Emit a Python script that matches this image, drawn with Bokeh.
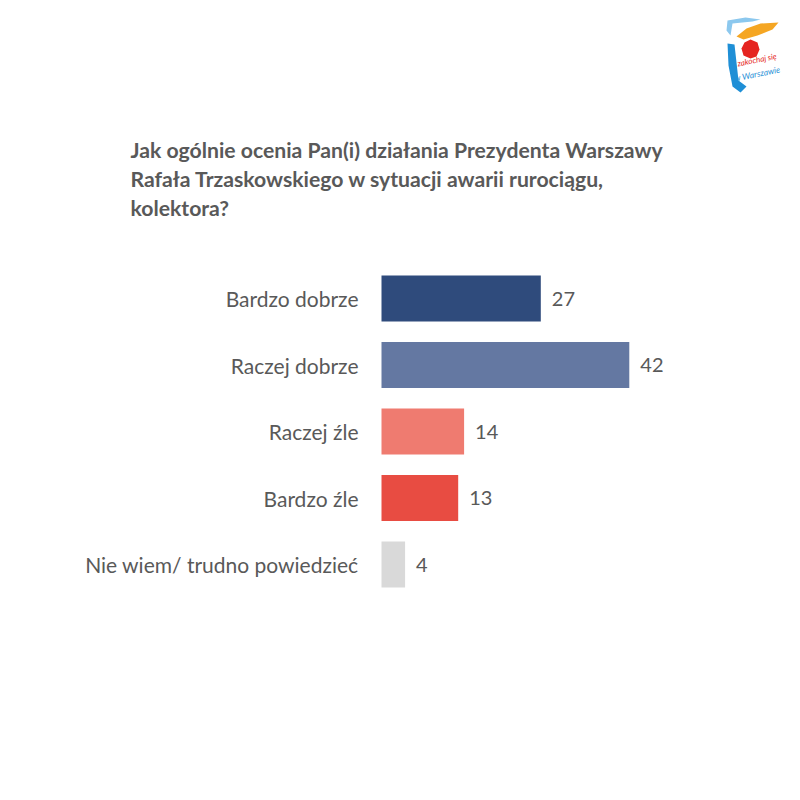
from bokeh.plotting import figure
from bokeh.models import ColumnDataSource, Range1d, Label, PolyAnnotation
from bokeh.core.properties import value
from bokeh.embed import file_html
from bokeh.resources import INLINE

categories = ["Bardzo dobrze", "Raczej dobrze", "Raczej źle", "Bardzo źle", "Nie wiem/ trudno powiedzieć"]
values = [27, 42, 14, 13, 4]
colors = ["#2f4b7c", "#6478a2", "#ef7b70", "#e84c42", "#d9d9d9"]
title_lines = [
    "Jak ogólnie ocenia Pan(i) działania Prezydenta Warszawy",
    "Rafała Trzaskowskiego w sytuacji awarii rurociągu,",
    "kolektora?",
]

TEXT = "#595959"
FONT = "Lato"

W, H = 784, 784
# layout: value 0 at x=381 px, 5.9 px per unit; row pitch 66.5 px, first row centre at 298 px
PX_PER_UNIT = 5.9
X0 = 381
ROW = 66.5
Y0 = 298

pos = list(range(len(categories)))
src = ColumnDataSource(dict(pos=pos, cat=categories, val=values, col=colors,
                            lab=[str(v) for v in values]))

p = figure(width=W, height=H, output_backend="svg", toolbar_location=None,
           x_axis_location=None, y_axis_location=None,
           x_range=Range1d(-X0 / PX_PER_UNIT, (W - X0) / PX_PER_UNIT),
           y_range=Range1d((H - Y0) / ROW, -Y0 / ROW),
           min_border=0)
p.outline_line_color = None
p.grid.visible = False
p.background_fill_color = "white"
p.border_fill_color = "white"

p.hbar(y="pos", right="val", left=0, height=0.69, color="col", line_color=None, source=src)
p.text(x="val", y="pos", text="lab", source=src, x_offset=11,
       text_baseline="middle", text_align="left",
       text_font=value(FONT), text_font_size="20px", text_color=TEXT)
p.text(x=0, y="pos", text="cat", source=src, x_offset=-23,
       text_baseline="middle", text_align="right",
       text_font=value(FONT), text_font_size="21px", text_color=TEXT)

def sx(px):
    return px

def sy(py):
    return H - py

baselines = [149, 178, 207]
for line, b in zip(title_lines, baselines):
    p.add_layout(Label(x=sx(130), y=sy(b), x_units="screen", y_units="screen",
                       text=line, text_font=FONT, text_font_size="21.2px",
                       text_font_style="bold", text_color=TEXT,
                       text_baseline="alphabetic"))

# logo (decoration)
orange = [(736, 36), (746, 28), (760, 23), (778, 22), (772, 29), (757, 35), (743, 39)]
red = [(750, 39), (757, 42), (759, 49), (756, 56), (750, 58), (743, 55), (741, 48), (744, 42)]
blue = [(727, 43), (734, 44), (736, 62), (738, 80), (746, 86), (740, 92), (732, 86), (728, 65)]
face = [(727, 20), (745, 17), (760, 19), (752, 21), (732, 23), (730, 35), (726, 30)]
for pts, c in [(face, "#8cc8ee"), (orange, "#f5a623"), (red, "#e52421"), (blue, "#1f8fd6")]:
    p.add_layout(PolyAnnotation(xs=[sx(a) for a, _ in pts], ys=[sy(b) for _, b in pts],
                                xs_units="screen", ys_units="screen",
                                fill_color=c, fill_alpha=1.0, line_color=None))
p.add_layout(Label(x=sx(738), y=sy(68), x_units="screen", y_units="screen",
                   text="zakochaj się", text_font=FONT, text_font_size="8px",
                   text_font_style="italic", text_color="#e52421", angle=0.2))
p.add_layout(Label(x=sx(735), y=sy(83), x_units="screen", y_units="screen",
                   text="w Warszawie", text_font=FONT, text_font_size="8.5px",
                   text_font_style="italic", text_color="#1f8fd6", angle=0.2))

open("out.html", "w").write(file_html(p, INLINE))
